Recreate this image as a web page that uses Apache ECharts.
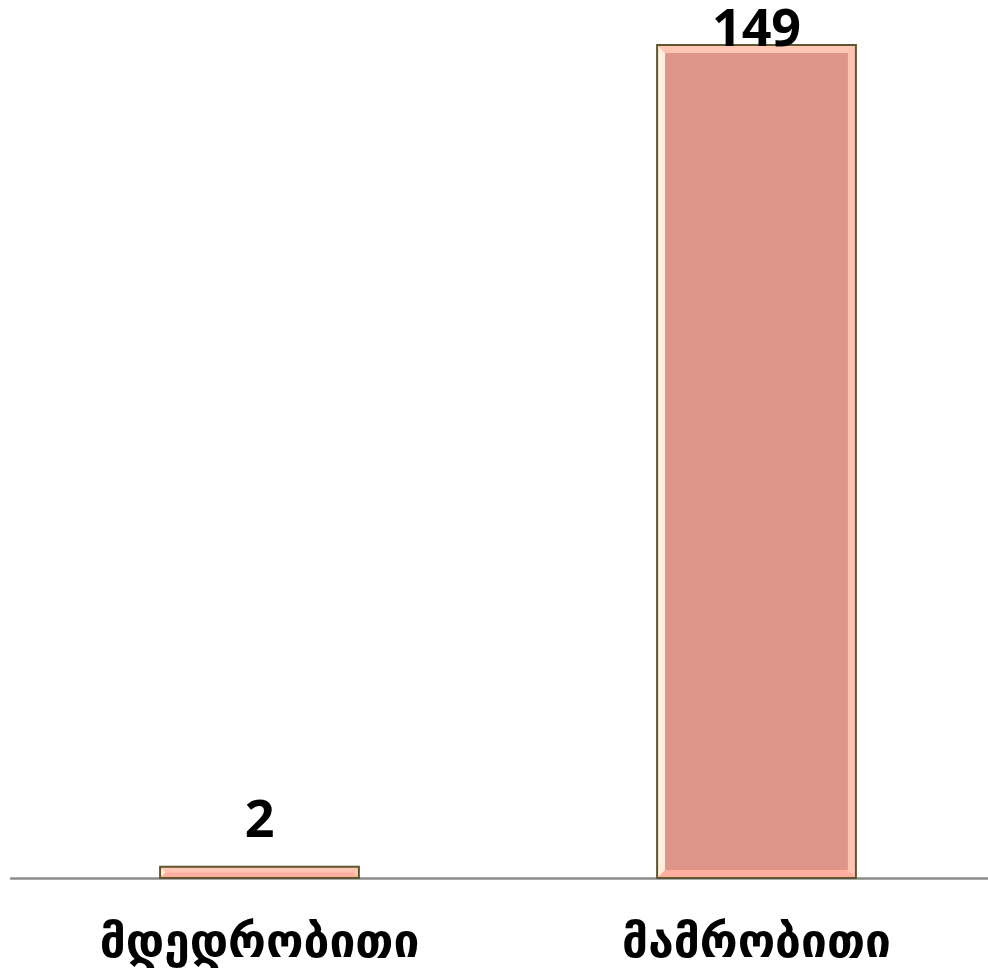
<!DOCTYPE html>
<html>
<head>
<meta charset="utf-8">
<script src="https://cdn.jsdelivr.net/npm/echarts@6/dist/echarts.min.js"></script>
<style>html,body{margin:0;padding:0;background:#fff;overflow:hidden}#c{width:1005px;height:974px}</style>
</head>
<body>
<div id="c"></div>
<script>
const categories = ['მდედრობითი', 'მამრობითი'];
const values = [2, 149];

const chart = echarts.init(document.getElementById('c'));

function renderBar(params, api) {
  const idx = api.value(0);
  const val = api.value(1);
  const top = api.coord([idx, val]);
  const base = api.coord([idx, 0]);
  const band = api.size([1, 0])[0];
  const w = band * 0.4;
  const x0 = top[0] - w / 2, x1 = top[0] + w / 2;
  const y0 = top[1], y1 = base[1];
  const h = y1 - y0;
  const b = Math.min(8, h / 2);
  const ix0 = x0 + b, ix1 = x1 - b, iy0 = y0 + b, iy1 = y1 - b;
  const children = [
    { type: 'rect', shape: { x: x0, y: y0, width: w, height: h }, style: { fill: '#FFC4B2' } },
    { type: 'polygon', shape: { points: [[x0, y0], [ix0, iy0], [ix0, iy1], [x0, y1]] }, style: { fill: '#FFEFDC' } },
    { type: 'polygon', shape: { points: [[x0, y0], [x1, y0], [ix1, iy0], [ix0, iy0]] }, style: { fill: '#FFC6B4' } },
    { type: 'polygon', shape: { points: [[x0, y1], [ix0, iy1], [ix1, iy1], [x1, y1]] }, style: { fill: '#FFAFA0' } },
    { type: 'polygon', shape: { points: [[x1, y0], [x1, y1], [ix1, iy1], [ix1, iy0]] }, style: { fill: '#FFC4B2' } },
    { type: 'rect', shape: { x: ix0, y: iy0, width: Math.max(0, ix1 - ix0), height: Math.max(0, iy1 - iy0) }, style: { fill: '#E0958A' } },
    { type: 'rect', shape: { x: x0, y: y0, width: w, height: h }, style: { fill: 'none', stroke: '#5F5630', lineWidth: 2 } },
    { type: 'text', x: top[0], y: Math.max(y0 - 45, 31), style: { text: String(val), fill: '#000', font: 'bold 52px "Open Sans", sans-serif', align: 'center', verticalAlign: 'middle' }, z2: 10 }
  ];
  return { type: 'group', children };
}

chart.setOption({
  animation: false,
  grid: { left: 11, top: 45, bottom: 96, right: 0 },
  xAxis: {
    type: 'category',
    data: categories,
    axisLine: { lineStyle: { color: '#8C8C8C', width: 2.5 } },
    axisTick: { show: false },
    axisLabel: { fontSize: 46, fontWeight: 'bold', color: '#000', margin: 44, fontFamily: '"DejaVu Sans", sans-serif' }
  },
  yAxis: { type: 'value', min: 0, max: 149, show: false, splitLine: { show: false } },
  series: [{
    type: 'custom',
    renderItem: renderBar,
    data: values.map((v, i) => [i, v]),
    encode: { x: 0, y: 1 },
    z: 1
  }]
});
</script>
</body>
</html>
